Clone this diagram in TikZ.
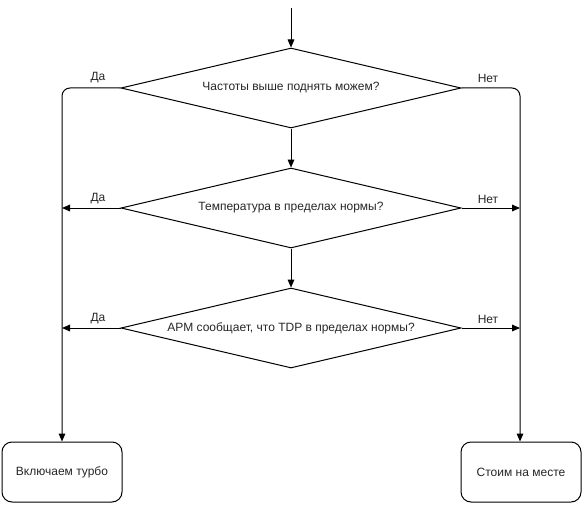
\documentclass[tikz,border=0pt]{standalone}
\usepackage{fontspec}
\setmainfont{Liberation Sans}
\usetikzlibrary{arrows.meta,shapes.geometric}
\begin{document}
\begin{tikzpicture}[x=0.75pt,y=-0.75pt,
  every node/.style={font=\fontsize{9}{11}\selectfont, text=black!85},
  dec/.style={draw, diamond, aspect=4.25, minimum width=340*0.75pt, minimum height=80*0.75pt, inner sep=0pt, line width=0.75pt},
  endbox/.style={draw, rounded corners=7.5pt, minimum width=120*0.75pt, minimum height=60*0.75pt, line width=0.75pt},
  conn/.style={line width=0.75pt, -{Triangle[length=6pt,width=5pt]}},
  lbl/.style={inner sep=0pt}]
\useasboundingbox (0,0) rectangle (584,506);
\coordinate (start) at (291,8);
\node[dec] (d1) at (291,88) {Частоты выше поднять можем?};
\node[dec] (d2) at (291,208) {Температура в пределах нормы?};
\node[dec] (d3) at (291,328) {APM сообщает, что TDP в пределах нормы?};
\node[endbox] (yes) at (62,472) {Включаем турбо};
\node[endbox] (no) at (521,472) {Стоим на месте};
\coordinate (ly) at (62,88);
\coordinate (ry) at (520,88);
\coordinate (l2) at (62,208);
\coordinate (r2) at (520,208);
\coordinate (l3) at (62,328);
\coordinate (r3) at (520,328);
\draw[conn] (start) -- (d1.north);
\draw[conn] (d1.south) -- (d2.north);
\draw[conn] (d2.south) -- (d3.north);
\draw[conn, rounded corners=6pt] (d1.west) -- (ly) -- (yes.north -| ly);
\draw[conn, rounded corners=6pt] (d1.east) -- (ry) -- (no.north -| ry);
\draw[conn] (d2.west) -- (l2);
\draw[conn] (d2.east) -- (r2);
\draw[conn] (d3.west) -- (l3);
\draw[conn] (d3.east) -- (r3);
\node[lbl] (t1) at (98,78) {Да};
\node[lbl] (t2) at (488,78) {Нет};
\node[lbl] (t3) at (98,199) {Да};
\node[lbl] (t4) at (488,199) {Нет};
\node[lbl] (t5) at (98,319) {Да};
\node[lbl] (t6) at (488,319) {Нет};
\end{tikzpicture}
\end{document}
